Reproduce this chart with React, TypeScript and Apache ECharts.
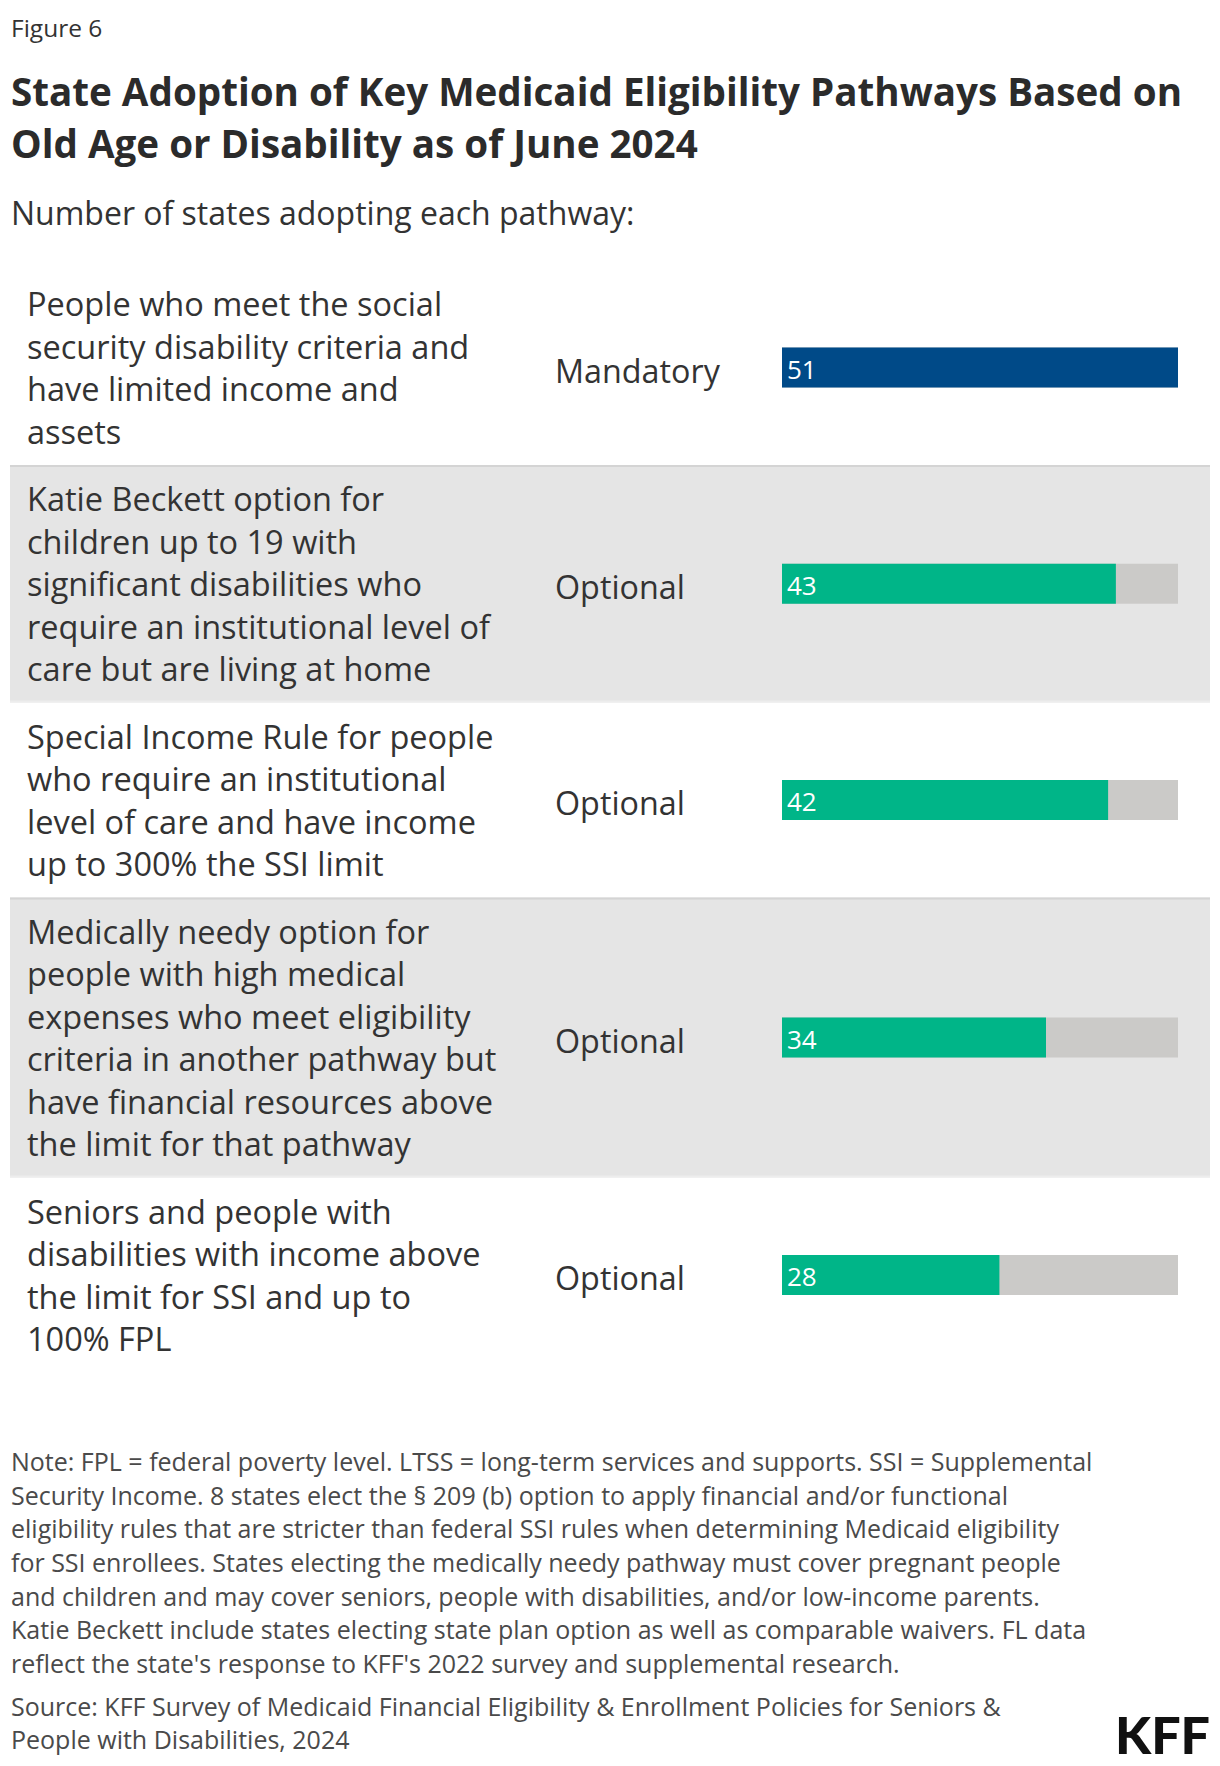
import React, { useEffect, useRef } from "react";
import * as echarts from "echarts";

const FIGURE_LABEL = "Figure 6";
const TITLE_LINES = [
  "State Adoption of Key Medicaid Eligibility Pathways Based on",
  "Old Age or Disability as of June 2024",
];
const SUBTITLE = "Number of states adopting each pathway:";

const pathways = [
  "People who meet the social\nsecurity disability criteria and\nhave limited income and\nassets",
  "Katie Beckett option for\nchildren up to 19 with\nsignificant disabilities who\nrequire an institutional level of\ncare but are living at home",
  "Special Income Rule for people\nwho require an institutional\nlevel of care and have income\nup to 300% the SSI limit",
  "Medically needy option for\npeople with high medical\nexpenses who meet eligibility\ncriteria in another pathway but\nhave financial resources above\nthe limit for that pathway",
  "Seniors and people with\ndisabilities with income above\nthe limit for SSI and up to\n100% FPL",
];
const pathwayTypes = ["Mandatory", "Optional", "Optional", "Optional", "Optional"];
const statesAdopting = [51, 43, 42, 34, 28];
const totalStates = 51;

const NOTE =
  "Note: FPL = federal poverty level. LTSS = long-term services and supports. SSI = Supplemental\n" +
  "Security Income. 8 states elect the § 209 (b) option to apply financial and/or functional\n" +
  "eligibility rules that are stricter than federal SSI rules when determining Medicaid eligibility\n" +
  "for SSI enrollees. States electing the medically needy pathway must cover pregnant people\n" +
  "and children and may cover seniors, people with disabilities, and/or low-income parents.\n" +
  "Katie Beckett include states electing state plan option as well as comparable waivers. FL data\n" +
  "reflect the state's response to KFF's 2022 survey and supplemental research.";
const SOURCE =
  "Source: KFF Survey of Medicaid Financial Eligibility & Enrollment Policies for Seniors &\n" +
  "People with Disabilities, 2024";

const FONT = "'Open Sans', Lato, sans-serif";
const TEXT_COLOR = "#333333";
const BLUE = "#004a88";
const GREEN = "#00b588";
const TRACK = "#cbcac8";
const ROW_BG = "#e5e5e5";

export default function App() {
  const ref = useRef<HTMLDivElement>(null);

  useEffect(() => {
    document.body.style.margin = "0";
    if (!ref.current) return;
    const chart = echarts.init(ref.current, null, { renderer: "svg" });

    const LINE_H = 42.5;
    const ROW_PAD = 25;
    const ROWS_TOP = 270;
    const BAR_LEFT = 782;
    const BAR_WIDTH = 396;
    const BAR_H = 40;

    const rows: { top: number; h: number; c: number }[] = [];
    let y = ROWS_TOP;
    pathways.forEach((p) => {
      const n = p.split("\n").length;
      const h = n * LINE_H + ROW_PAD;
      rows.push({ top: y, h, c: y + h / 2 });
      y += h;
    });

    const txt = (text: string, x: number, yy: number, font: string, fill: string, extra: any = {}) => ({
      type: "text",
      style: {
        text,
        x,
        y: yy,
        font,
        fill,
        align: "left",
        verticalAlign: "middle",
        textAlign: "left",
        textVerticalAlign: "middle",
        ...extra,
      },
    });

    const graphics: any[] = [];
    rows.forEach((r, i) => {
      if (i % 2 === 1) {
        graphics.push({
          type: "rect",
          shape: { x: 10, y: r.top, width: 1200, height: r.h },
          style: { fill: ROW_BG },
          z: -10,
        });
        graphics.push({
          type: "rect",
          shape: { x: 10, y: r.top, width: 1200, height: 2 },
          style: { fill: "#d4d4d4" },
          z: -9,
        });
        graphics.push({
          type: "rect",
          shape: { x: 10, y: r.top + r.h - 2, width: 1200, height: 2 },
          style: { fill: "#ededed" },
          z: -9,
        });
      }
      graphics.push(txt(pathways[i], 27, r.c, `32.5px ${FONT}`, TEXT_COLOR, { lineHeight: LINE_H }));
      graphics.push(txt(pathwayTypes[i], 555, r.c + 2, `32.3px ${FONT}`, TEXT_COLOR));
    });

    graphics.push(txt(FIGURE_LABEL, 11, 27, `24.5px ${FONT}`, TEXT_COLOR));
    graphics.push(txt(TITLE_LINES[0], 11, 91, `bold 38.6px ${FONT}`, "#2b2b2b"));
    graphics.push(txt(TITLE_LINES[1], 11, 143, `bold 38.6px ${FONT}`, "#2b2b2b"));
    graphics.push(txt(SUBTITLE, 11, 212, `32px ${FONT}`, TEXT_COLOR));
    graphics.push(txt(NOTE, 11, 1562, `25px ${FONT}`, "#4a4a4a", { lineHeight: 33.7 }));
    graphics.push(txt(SOURCE, 11, 1722.5, `25px ${FONT}`, "#4a4a4a", { lineHeight: 33.7 }));
    graphics.push({
      type: "text",
      x: 1115,
      y: 1734,
      scaleX: 1.0,
      style: {
        text: "KFF",
        x: 0,
        y: 0,
        font: `900 52px Lato, sans-serif`,
        fill: "#111111",
        align: "left",
        verticalAlign: "middle",
        textAlign: "left",
        textVerticalAlign: "middle",
      },
    });

    const grids = rows.map((r) => ({
      left: BAR_LEFT,
      width: BAR_WIDTH,
      top: r.c - BAR_H / 2,
      height: BAR_H,
      containLabel: false,
    }));
    const xAxes = rows.map((_, i) => ({
      type: "value",
      gridIndex: i,
      min: 0,
      max: totalStates,
      show: false,
    }));
    const yAxes = rows.map((_, i) => ({
      type: "category",
      gridIndex: i,
      data: [pathways[i]],
      show: false,
    }));
    const series = rows.map((_, i) => ({
      type: "bar",
      xAxisIndex: i,
      yAxisIndex: i,
      data: [statesAdopting[i]],
      barWidth: BAR_H,
      showBackground: true,
      backgroundStyle: { color: TRACK },
      itemStyle: { color: pathwayTypes[i] === "Mandatory" ? BLUE : GREEN },
      label: {
        show: true,
        position: "insideLeft",
        distance: 5,
        offset: [0, 1],
        color: "#ffffff",
        fontSize: 26,
        fontFamily: FONT,
      },
      silent: true,
    }));

    chart.setOption({
      animation: false,
      backgroundColor: "#ffffff",
      grid: grids,
      xAxis: xAxes,
      yAxis: yAxes,
      series,
      graphic: { elements: graphics },
    });

    return () => chart.dispose();
  }, []);

  return <div ref={ref} style={{ width: 1220, height: 1766 }} />;
}
